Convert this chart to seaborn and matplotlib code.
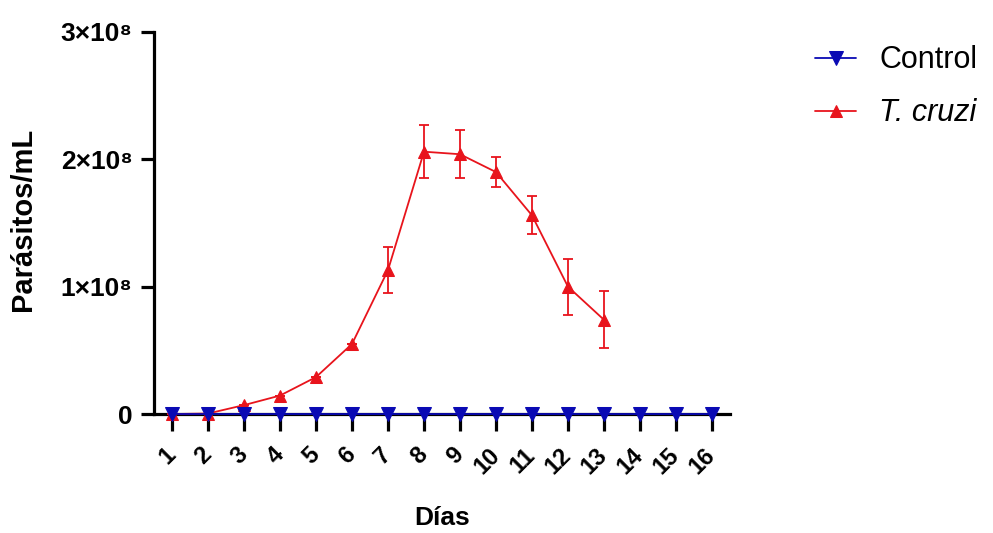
import matplotlib
matplotlib.use("Agg")
import matplotlib.pyplot as plt
import seaborn as sns
import numpy as np
import pandas as pd

# ---- data ----
days_control = list(range(1, 17))
control_vals = [0] * 16

days_tcruzi = list(range(1, 14))
tcruzi_vals = [0.0, 0.004e8, 0.07e8, 0.145e8, 0.29e8, 0.55e8, 1.13e8, 2.06e8, 2.04e8, 1.90e8, 1.56e8, 1.00e8, 0.74e8]
tcruzi_err = [0, 0, 0, 0, 0, 0, 0.18e8, 0.21e8, 0.19e8, 0.12e8, 0.15e8, 0.22e8, 0.225e8]

yticks = [0, 1e8, 2e8, 3e8]
ytick_labels = ["0", "1×10⁸", "2×10⁸", "3×10⁸"]
xtick_labels = [str(d) for d in range(1, 17)]

RED = "#e8141c"
BLUE = "#0a0ab4"

sns.set_style("white")
plt.rcParams["font.family"] = ["Liberation Sans", "DejaVu Sans"]
plt.rcParams.update({"text.color": "black", "axes.labelcolor": "black",
                     "xtick.color": "black", "ytick.color": "black"})

fig = plt.figure(figsize=(9.93, 5.33), dpi=100)
AX_L, AX_B, AX_W, AX_H = 0.1551, 0.2232, 0.58, 0.7168
ax = fig.add_axes([AX_L, AX_B, AX_W, AX_H])

df_c = pd.DataFrame({"Día": days_control, "val": control_vals})
df_t = pd.DataFrame({"Día": days_tcruzi, "val": tcruzi_vals})

ax.errorbar(days_tcruzi, tcruzi_vals, yerr=tcruzi_err, fmt="none", ecolor=RED,
            elinewidth=1.3, capsize=3.5, capthick=1.3, zorder=3)
sns.lineplot(data=df_t, x="Día", y="val", ax=ax, color=RED, marker="^",
             markersize=9, markeredgecolor=RED, linewidth=1.3, label="T. cruzi",
             zorder=4, clip_on=False)
sns.lineplot(data=df_c, x="Día", y="val", ax=ax, color=BLUE, marker="v",
             markersize=10, markeredgecolor=BLUE, linewidth=1.3, label="Control",
             zorder=5, clip_on=False)

ax.set_xlim(0.5, 16.5)
ax.set_ylim(0, 3e8)
ax.set_yticks(yticks)
ax.set_yticklabels(ytick_labels, fontsize=19, fontweight="bold")
ax.set_xticks(days_control)
ax.set_xticklabels(xtick_labels, fontsize=17, fontweight="bold", rotation=45,
                   ha="right", va="center", rotation_mode="anchor")

for s in ["top", "right"]:
    ax.spines[s].set_visible(False)
for s in ["left", "bottom"]:
    ax.spines[s].set_linewidth(2.3)
    ax.spines[s].set_color("black")
    ax.spines[s].set_zorder(2)

ax.tick_params(axis="y", length=9.5, width=2.3, color="black", pad=6, left=True)
ax.tick_params(axis="x", length=12, width=2.3, color="black", pad=15, bottom=True)

ax.set_xlabel("Días", fontsize=19, fontweight="bold")
ax.xaxis.set_label_coords(0.5, -0.272)
ax.xaxis.label.set_va("center")
ax.set_ylabel("Parásitos/mL", fontsize=21, fontweight="bold")
ax.yaxis.set_label_coords(-0.227, 0.51)
ax.yaxis.label.set_va("center")

ax.get_legend().remove()
h, l = ax.get_legend_handles_labels()
order = [l.index("Control"), l.index("T. cruzi")]
leg = fig.legend([h[i] for i in order], [l[i] for i in order], loc="upper left",
                 bbox_to_anchor=(0.8207, 0.915), frameon=False, fontsize=22,
                 handlelength=1.35, labelspacing=0.75, handletextpad=0.75,
                 borderpad=0, borderaxespad=0)
for t in leg.get_texts():
    if t.get_text() == "T. cruzi":
        t.set_fontstyle("italic")

fig.savefig("out.png", dpi=100)
